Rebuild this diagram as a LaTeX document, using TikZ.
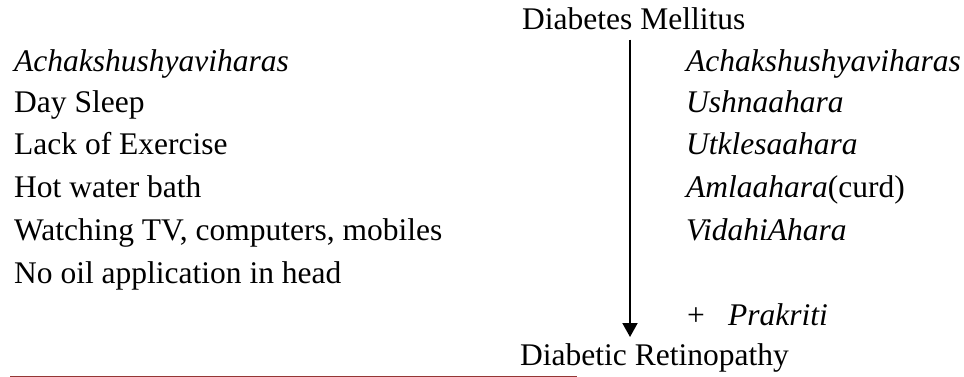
\documentclass[tikz,border=0pt]{standalone}
\usepackage{fontspec}
\setmainfont{Liberation Serif}
\usetikzlibrary{arrows.meta}
\definecolor{rulered}{RGB}{148,54,52}
\begin{document}
\begin{tikzpicture}[x=1pt,y=-1pt]
\useasboundingbox (0,0) rectangle (964,377);
\tikzstyle{every node}=[anchor=base west,inner sep=0pt,font=\fontsize{31.5}{38}\selectfont];
\node (dm) at (522,30) {Diabetes Mellitus};
\node (l1) at (14,72) {\textit{Achakshushyaviharas}};
\node (l2) at (14,113) {Day Sleep};
\node (l3) at (14,155) {Lack of Exercise};
\node (l4) at (14,197) {Hot water bath};
\node (l5) at (14,240) {Watching TV, computers, mobiles};
\node (l6) at (14,283) {No oil application in head};
\node (r1) at (686,72) {\textit{Achakshushyaviharas}};
\node (r2) at (686,113) {\textit{Ushnaahara}};
\node (r3) at (686,155) {\textit{Utklesaahara}};
\node (r4) at (686,197) {\textit{Amlaahara}(curd)};
\node (r5) at (686,240) {\textit{VidahiAhara}};
\node (plus) at (687,325) {+};
\node (prak) at (728,325) {\textit{Prakriti}};
\node (dr) at (520,365) {Diabetic Retinopathy};
\coordinate (tip) at (630,337);
\draw[line width=2pt,-{Triangle[length=14pt,width=15pt]},shorten <=9pt] (dm.south -| tip) -- (tip);
\draw[rulered,line width=1pt] (10,376) -- (577,376);
\end{tikzpicture}
\end{document}
